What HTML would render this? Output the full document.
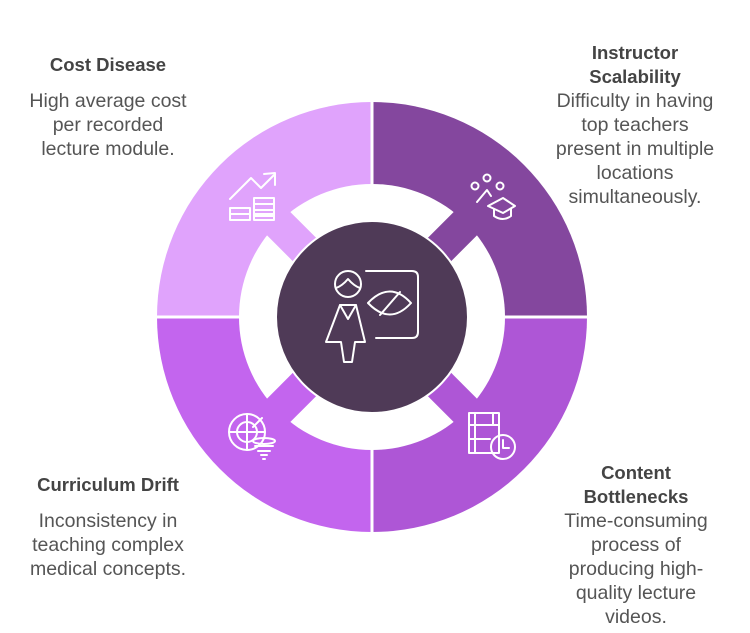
<!DOCTYPE html>
<html><head><meta charset="utf-8"><style>
body{margin:0;width:750px;height:633px;background:#fff;overflow:hidden}
svg{display:block}
text{font-family:"Liberation Sans",sans-serif;font-size:19.5px;text-anchor:middle}
.h{font-weight:bold;fill:#444;font-size:18.5px}
.b{fill:#555}
.ic{fill:none;stroke:#fff;stroke-width:2;stroke-linejoin:round;stroke-linecap:round}
</style></head><body>
<svg width="750" height="633" viewBox="0 0 750 633">
<g transform="translate(372,317)">
<path d="M0,0 L0,-215 A215,215 0 0 0 -215,0 Z" fill="#E0A3FC"/>
<path d="M0,0 L0,-215 A215,215 0 0 1 215,0 Z" fill="#84479E"/>
<path d="M0,0 L215,0 A215,215 0 0 1 0,215 Z" fill="#AE56D6"/>
<path d="M0,0 L0,215 A215,215 0 0 1 -215,0 Z" fill="#C365EE"/>
<line x1="0" y1="-216" x2="0" y2="216" stroke="#fff" stroke-width="3"/>
<line x1="-216" y1="0" x2="216" y2="0" stroke="#fff" stroke-width="3"/>
<circle r="133" fill="#fff"/>
<g transform="rotate(-135)"><rect x="85" y="-16.5" width="52" height="33" fill="#E0A3FC"/></g>
<g transform="rotate(-45)"><rect x="85" y="-16.5" width="52" height="33" fill="#84479E"/></g>
<g transform="rotate(45)"><rect x="85" y="-16.5" width="52" height="33" fill="#AE56D6"/></g>
<g transform="rotate(135)"><rect x="85" y="-16.5" width="52" height="33" fill="#C365EE"/></g>
<circle r="96" fill="#4F3A57" stroke="#fff" stroke-width="2"/>
</g>
<g class="ic" stroke-width="1.6">
<circle cx="348" cy="284" r="13"/>
<path d="M336,288 Q342,286 348,279 Q354,286 360,288"/>
<path d="M340,305 L356,305 L365,342 L355,342 L352,362 L344,362 L341,342 L326,342 Z"/>
<path d="M340,305 L348,319 L356,305"/>
<path d="M366,271 L412,271 Q418,271 418,277 L418,332 Q418,338 412,338 L376,338"/>
<path d="M368,303 Q390,280 411,303 Q390,326 368,303 Z"/>
<path d="M380,315 L400,292"/>
</g>
<g class="ic" stroke-width="1.6">
<path d="M230,199 L251,178 L261,188 L274,175"/><path d="M264,174 L275,173 L275,185"/>
<rect x="230" y="208" width="20" height="6"/><rect x="230" y="214" width="20" height="6"/>
<rect x="254" y="198" width="20" height="6"/><rect x="254" y="204" width="20" height="6"/><rect x="254" y="210" width="20" height="6"/><rect x="254" y="214" width="20" height="6"/>
</g>
<g class="ic" stroke-width="1.6">
<circle cx="487" cy="178" r="3.5"/><circle cx="475" cy="186" r="3.5"/><circle cx="500" cy="186" r="3.5"/>
<path d="M477,202 L487,190 L491,196"/>
<path d="M488,206 L503,198 L515,206 L503,213 Z"/><path d="M494,209 L494,216 Q503,222 511,216 L511,209"/>
</g>
<g class="ic" stroke-width="1.6">
<rect x="469" y="413" width="30" height="40"/><path d="M475,413 L475,453 M493,413 L493,425 M469,425 L499,425 M469,439 L490,439"/>
<circle cx="503" cy="447" r="12"/><path d="M503,440 L503,448 L509,448"/>
</g>
<g class="ic" stroke-width="1.6">
<circle cx="247" cy="432" r="18"/><circle cx="247" cy="432" r="10"/><path d="M229,432 L265,432 M247,414 L247,450 M253,427 L262,418"/>
<ellipse cx="264" cy="441" rx="11" ry="3"/><path d="M255,446 L273,446 M258,451 L270,451 M261,455 L267,455 M263,459 L265,459"/>
</g>
<text class="h" x="108" y="71">Cost Disease</text>
<text class="b" x="108" y="107">High average cost</text>
<text class="b" x="108" y="131">per recorded</text>
<text class="b" x="108" y="155">lecture module.</text>

<text class="h" x="635" y="59">Instructor</text>
<text class="h" x="635" y="83">Scalability</text>
<text class="b" x="635" y="107">Difficulty in having</text>
<text class="b" x="635" y="131">top teachers</text>
<text class="b" x="635" y="155">present in multiple</text>
<text class="b" x="635" y="179">locations</text>
<text class="b" x="635" y="203">simultaneously.</text>

<text class="h" x="636" y="479">Content</text>
<text class="h" x="636" y="503">Bottlenecks</text>
<text class="b" x="636" y="527">Time-consuming</text>
<text class="b" x="636" y="551">process of</text>
<text class="b" x="636" y="575">producing high-</text>
<text class="b" x="636" y="599">quality lecture</text>
<text class="b" x="636" y="623">videos.</text>

<text class="h" x="108" y="491">Curriculum Drift</text>
<text class="b" x="108" y="527">Inconsistency in</text>
<text class="b" x="108" y="551">teaching complex</text>
<text class="b" x="108" y="575">medical concepts.</text>
</svg>
</body></html>
